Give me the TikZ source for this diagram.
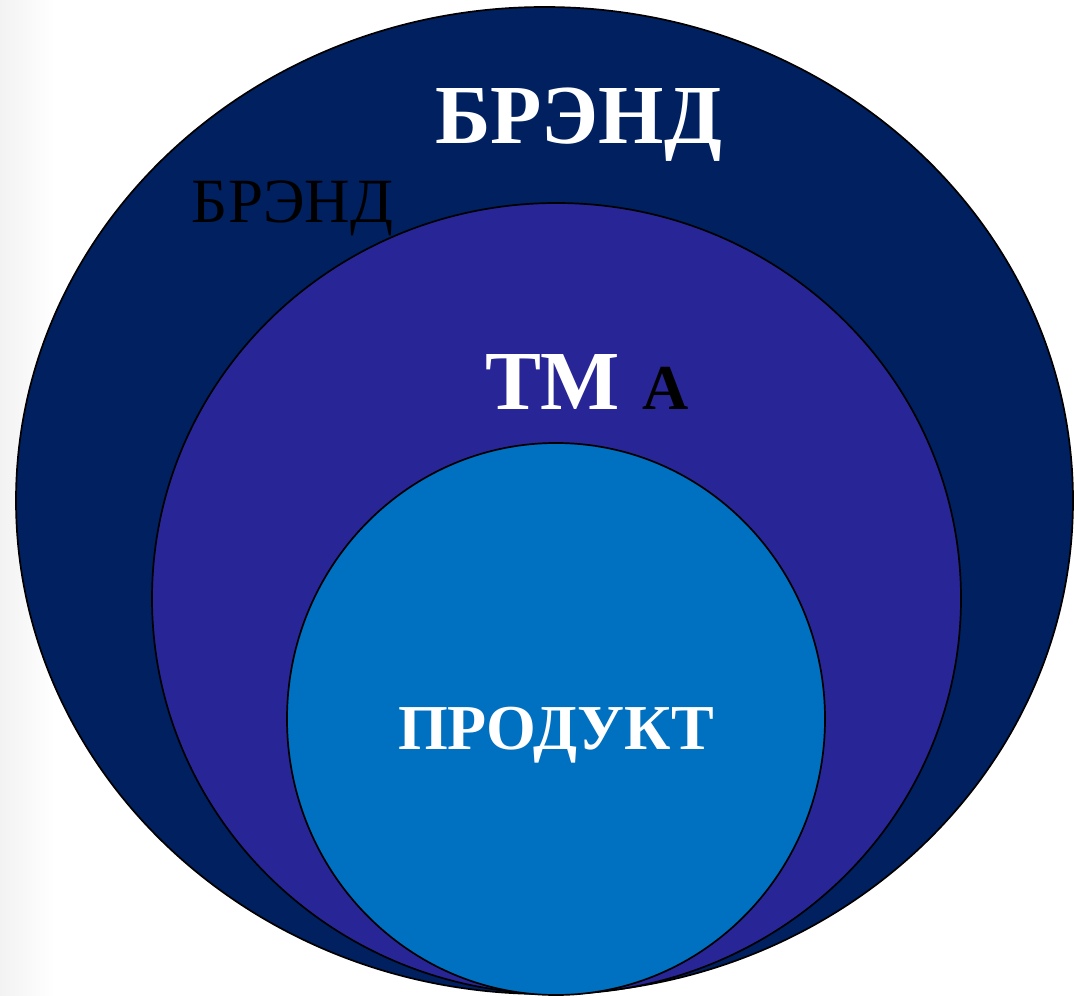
\documentclass[tikz,border=0pt]{standalone}
\usepackage{fontspec}
\setmainfont{Liberation Serif}
\usetikzlibrary{shapes.geometric}
\definecolor{outerc}{RGB}{0,32,96}
\definecolor{middlec}{RGB}{40,38,150}
\definecolor{innerc}{RGB}{0,112,192}
\tikzset{
  ring/.style={ellipse, draw=black, line width=1.7pt, inner sep=0pt},
  lbl/.style={anchor=base, inner sep=0pt, font=\bfseries},
}
\begin{document}
\begin{tikzpicture}[x=1pt,y=-1pt]
\fill[white] (0,0) rectangle (1074,996);
\shade[left color=black!5, right color=white] (0,0) rectangle (55,996);
\useasboundingbox (0,0) rectangle (1074,996);
\node[ring, fill=outerc, minimum width=1057pt, minimum height=987pt] (brand) at (544.5,500.5) {};
\node[ring, fill=middlec, minimum width=809pt, minimum height=791pt] (tm) at (556.5,598.5) {};
\node[ring, fill=innerc, minimum width=538pt, minimum height=552pt] (prod) at (556,719) {};
\node[lbl, text=white, font=\fontsize{84}{84}\selectfont\bfseries] (t1) at (578.5,143) {БРЭНД};
\node[anchor=base, inner sep=0pt, text=black, font=\fontsize{63}{63}\selectfont] (t2) at (292.5,222) {БРЭНД};
\node[lbl, text=white, font=\fontsize{84}{84}\selectfont\bfseries] (t3) at (553,409) {ТМ};
\node[lbl, text=black, font=\fontsize{64}{64}\selectfont\bfseries] (t4) at (665.5,409) {А};
\node[lbl, text=white, font=\fontsize{64}{64}\selectfont\bfseries] (t5) at (556,749) {ПРОДУКТ};
\end{tikzpicture}
\end{document}
